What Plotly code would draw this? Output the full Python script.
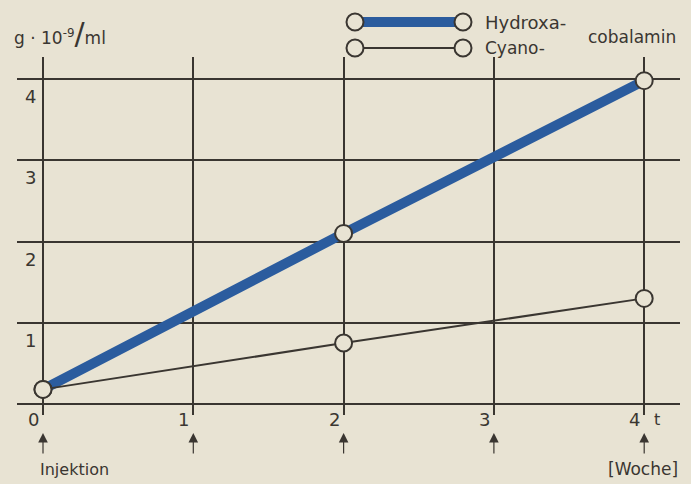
import plotly.graph_objects as go

# Data
weeks_hydroxa = [0, 2, 4]
vals_hydroxa = [0.18, 2.1, 3.98]
weeks_cyano = [0, 2, 4]
vals_cyano = [0.18, 0.75, 1.3]
x_tick_vals = [0, 1, 2, 3, 4]
x_tick_labels = ["0", "1", "2", "3", "4"]
y_tick_vals = [1, 2, 3, 4]
y_tick_labels = ["1", "2", "3", "4"]

BG = "#e8e3d3"
INK = "#3a3631"
BLUE = "#2b5c9e"
FONT = "DejaVu Sans"

W, H = 691, 484
ML, MR, MT, MB = 17, 11, 57, 69
PW, PH = W - ML - MR, H - MT - MB


def px(x):
    return (x - ML) / PW


def py(y):
    return (H - MB - y) / PH


fig = go.Figure()

fig.add_trace(go.Scatter(x=weeks_hydroxa, y=vals_hydroxa, mode="lines",
                         line=dict(color=BLUE, width=10), hoverinfo="skip"))
fig.add_trace(go.Scatter(x=weeks_cyano, y=vals_cyano, mode="lines",
                         line=dict(color=INK, width=2), hoverinfo="skip"))
fig.add_trace(go.Scatter(x=weeks_hydroxa + weeks_cyano, y=vals_hydroxa + vals_cyano,
                         mode="markers",
                         marker=dict(symbol="circle", size=17, color=BG,
                                     line=dict(color=INK, width=2)),
                         hoverinfo="skip"))

shapes = []
annotations = []

# Legend (drawn in paper coordinates)
for row_y, col, wdt in [(22, BLUE, 10), (48, INK, 2)]:
    shapes.append(dict(type="line", xref="paper", yref="paper",
                       x0=px(363), x1=px(455), y0=py(row_y), y1=py(row_y),
                       line=dict(color=col, width=wdt)))
    for cx in (355, 463):
        shapes.append(dict(type="circle", xref="paper", yref="paper",
                           x0=px(cx - 8.5), x1=px(cx + 8.5), y0=py(row_y - 8.5), y1=py(row_y + 8.5),
                           fillcolor=BG, line=dict(color=INK, width=2)))

annotations.append(dict(xref="paper", yref="paper", x=px(483), y=py(22), text="Hydroxa-",
                        showarrow=False, xanchor="left", yanchor="middle",
                        font=dict(family=FONT, size=18, color=INK)))
annotations.append(dict(xref="paper", yref="paper", x=px(483), y=py(48), text="Cyano-",
                        showarrow=False, xanchor="left", yanchor="middle",
                        font=dict(family=FONT, size=17, color=INK)))
annotations.append(dict(xref="paper", yref="paper", x=px(586), y=py(37), text="cobalamin",
                        showarrow=False, xanchor="left", yanchor="middle",
                        font=dict(family=FONT, size=17, color=INK)))

# Y axis title
annotations.append(dict(xref="paper", yref="paper", x=px(12), y=py(33),
                        text="g · 10<sup>-9</sup><span style='font-size:30px'>/</span>ml",
                        showarrow=False, xanchor="left", yanchor="middle",
                        font=dict(family=FONT, size=17, color=INK)))

# Tick labels
for v, t in zip(x_tick_vals, x_tick_labels):
    annotations.append(dict(x=v, y=0, text=t, showarrow=False, xanchor="right",
                            yanchor="top", xshift=-2, yshift=-3,
                            font=dict(family=FONT, size=18, color=INK)))
    # arrows
    annotations.append(dict(x=v, y=0, text="", showarrow=True, arrowhead=2,
                            arrowsize=1.6, arrowwidth=1.2, arrowcolor=INK,
                            ax=0, ay=22, yshift=-29, axref="pixel", ayref="pixel"))
for v, t in zip(y_tick_vals, y_tick_labels):
    annotations.append(dict(x=0, y=v, text=t, showarrow=False, xanchor="right",
                            yanchor="top", xshift=-5, yshift=-5,
                            font=dict(family=FONT, size=18, color=INK)))

annotations.append(dict(x=4, y=0, text="t", showarrow=False, xanchor="left",
                        yanchor="top", xshift=8, yshift=-4,
                        font=dict(family=FONT, size=16, color=INK)))
annotations.append(dict(x=0, y=0, text="Injektion", showarrow=False, xanchor="left",
                        yanchor="top", xshift=-5, yshift=-54,
                        font=dict(family=FONT, size=16, color=INK)))
annotations.append(dict(x=4, y=0, text="[Woche]", showarrow=False, xanchor="center",
                        yanchor="top", xshift=-1, yshift=-53,
                        font=dict(family=FONT, size=17, color=INK)))

x0 = -26 / 150.3
x1 = (680 - 43) / 150.3
y0 = (404 - 415) / 81.25
y1 = (404 - 57) / 81.25

fig.update_layout(
    width=W, height=H,
    margin=dict(l=ML, r=MR, t=MT, b=MB),
    paper_bgcolor=BG, plot_bgcolor=BG,
    showlegend=False,
    shapes=shapes, annotations=annotations,
    xaxis=dict(range=[x0, x1], tickvals=x_tick_vals, showticklabels=False,
               showgrid=True, gridcolor=INK, gridwidth=2, zeroline=False,
               showline=False, fixedrange=True),
    yaxis=dict(range=[y0, y1], tickvals=[0] + y_tick_vals, showticklabels=False,
               showgrid=True, gridcolor=INK, gridwidth=2, zeroline=False,
               showline=False, fixedrange=True),
)

fig.write_html("out.html", config={"displayModeBar": False})

# remove the default page margin so the figure sits at the window's corner
with open("out.html", encoding="utf-8") as f:
    html = f.read()
html = html.replace("<head>", "<head><style>html,body{margin:0;padding:0;background:%s;}</style>" % BG, 1)
with open("out.html", "w", encoding="utf-8") as f:
    f.write(html)
